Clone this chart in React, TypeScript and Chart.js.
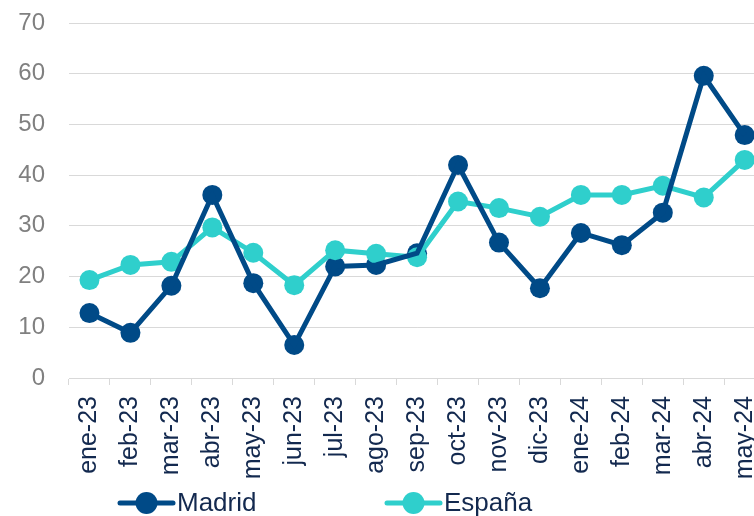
import React, { useEffect, useRef } from "react";
import { Chart, registerables } from "chart.js";

Chart.register(...registerables);

const categories = [
  "ene-23", "feb-23", "mar-23", "abr-23", "may-23", "jun-23", "jul-23", "ago-23", "sep-23",
  "oct-23", "nov-23", "dic-23", "ene-24", "feb-24", "mar-24", "abr-24", "may-24",
];
const madrid = [12.8, 8.9, 18.2, 36.1, 18.7, 6.5, 22.0, 22.3, 24.6, 42.0, 26.7, 17.7, 28.6, 26.2, 32.6, 59.6, 47.9];
const espana = [19.3, 22.3, 22.9, 29.7, 24.7, 18.3, 25.2, 24.5, 23.8, 34.8, 33.5, 31.8, 36.1, 36.1, 37.9, 35.6, 43.0];
const seriesNames = ["Madrid", "España"];
const seriesColors = ["#004A87", "#2FCFCC"];
const yTicks = [0, 10, 20, 30, 40, 50, 60, 70];

const FONT = "'Liberation Sans', Arial, sans-serif";
const TEXT_NAVY = "#13294F";

const legendPlugin = {
  id: "customLegend",
  afterDraw(chart: any) {
    const ctx = chart.ctx;
    const starts = [118, 385];
    const y = 503;
    ctx.save();
    seriesNames.forEach((name, i) => {
      const x0 = starts[i];
      const w = 57;
      const color = seriesColors[i];
      ctx.strokeStyle = color;
      ctx.lineWidth = 5;
      ctx.lineCap = "round";
      ctx.beginPath();
      ctx.moveTo(x0 + 2, y);
      ctx.lineTo(x0 + w - 2, y);
      ctx.stroke();
      ctx.fillStyle = color;
      ctx.beginPath();
      ctx.arc(x0 + w / 2, y, 11, 0, Math.PI * 2);
      ctx.fill();
      ctx.fillStyle = TEXT_NAVY;
      ctx.font = `26px ${FONT}`;
      ctx.textBaseline = "middle";
      ctx.textAlign = "left";
      ctx.fillText(name, x0 + w + 2, y + 1);
    });
    ctx.restore();
  },
};

function lineDataset(label: string, data: number[], color: string, order: number) {
  return {
    label,
    data,
    borderColor: color,
    backgroundColor: color,
    borderWidth: 5,
    pointRadius: 0,
    tension: 0,
    order,
  };
}

function markerDataset(label: string, data: number[], color: string, order: number) {
  return {
    label,
    data,
    showLine: false,
    borderColor: color,
    backgroundColor: color,
    pointBackgroundColor: color,
    pointBorderColor: color,
    pointRadius: 10,
    pointBorderWidth: 0,
    order,
  };
}

export default function App() {
  const ref = useRef<HTMLCanvasElement | null>(null);

  useEffect(() => {
    if (!ref.current) return;
    Chart.defaults.font.family = FONT;
    const chart = new Chart(ref.current, {
      type: "line",
      data: {
        labels: categories,
        datasets: [
          lineDataset(seriesNames[0], madrid, seriesColors[0], 1),
          lineDataset(seriesNames[1], espana, seriesColors[1], 3),
          markerDataset(seriesNames[0], madrid, seriesColors[0], 4),
          markerDataset(seriesNames[1], espana, seriesColors[1], 2),
        ] as any,
      },
      options: {
        responsive: false,
        animation: false,
        layout: { padding: { left: 17, right: 6, top: 23, bottom: 0 } },
        plugins: {
          legend: { display: false },
          tooltip: { enabled: false },
        },
        scales: {
          x: {
            offset: true,
            grid: {
              offset: true,
              drawOnChartArea: false,
              drawTicks: true,
              tickLength: 7,
              color: "#D9D9D9",
            },
            border: { display: true, color: "#D9D9D9", width: 1 },
            ticks: {
              minRotation: 90,
              maxRotation: 90,
              padding: 11,
              color: TEXT_NAVY,
              font: { size: 25, family: FONT },
              autoSkip: false,
            },
            afterFit: (scale: any) => {
              scale.height = 138;
            },
          },
          y: {
            min: 0,
            max: 70,
            afterBuildTicks: (scale: any) => {
              scale.ticks = yTicks.map((v) => ({ value: v }));
            },
            grid: {
              color: "#D9D9D9",
              lineWidth: 1,
              drawTicks: true,
              tickLength: 24,
              tickColor: "rgba(0,0,0,0)",
            },
            border: { display: false },
            ticks: {
              padding: 0,
              color: "#808080",
              font: { size: 24, family: FONT },
            },
            afterFit: (scale: any) => {
              scale.width = 52;
            },
          },
        },
      },
      plugins: [legendPlugin],
    });
    return () => chart.destroy();
  }, []);

  return (
    <div
      style={{
        position: "absolute",
        left: 0,
        top: 0,
        width: 754,
        height: 516,
        overflow: "hidden",
        background: "#fff",
      }}
    >
      <canvas ref={ref} width={786} height={516} style={{ display: "block" }} />
    </div>
  );
}
